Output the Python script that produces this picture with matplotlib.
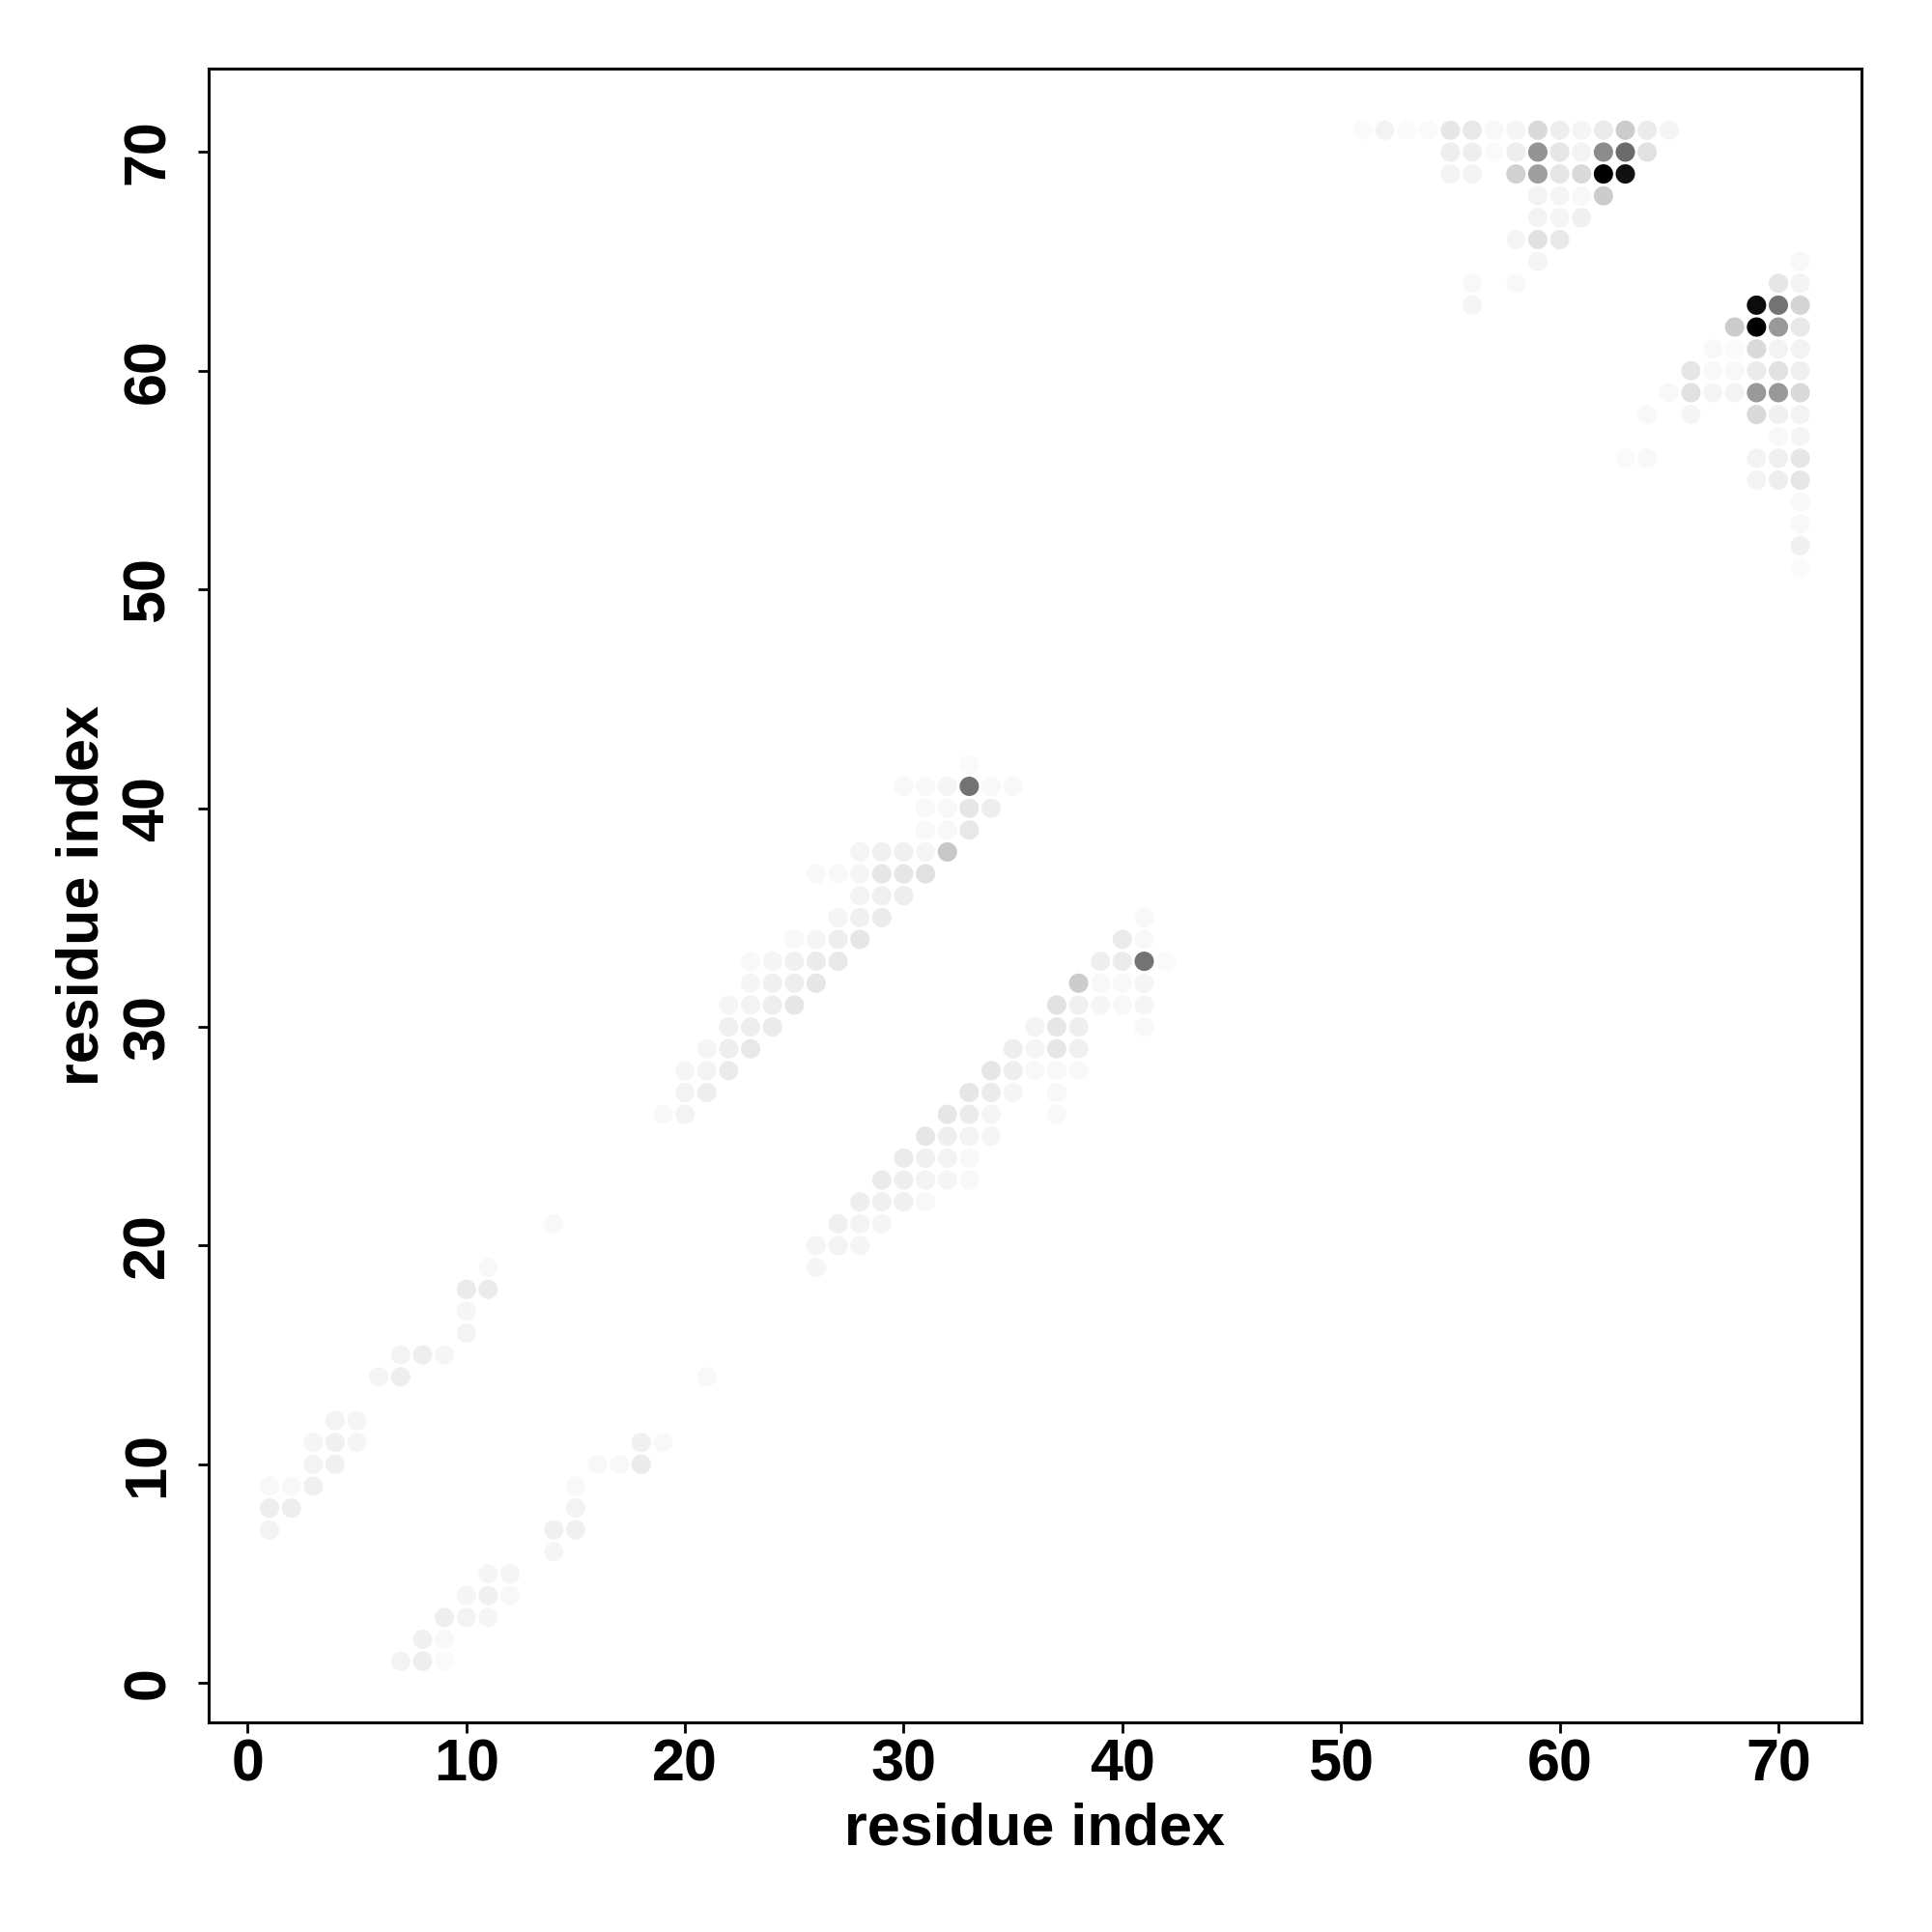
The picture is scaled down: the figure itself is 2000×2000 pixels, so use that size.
import numpy as np
import matplotlib
matplotlib.use("Agg")
import matplotlib.pyplot as plt

plt.rcParams['font.family'] = ['Liberation Sans', 'DejaVu Sans']
plt.rcParams['font.weight'] = 'bold'

# contact (residue i, residue j, strength 0..1), grouped by region
lower_left = [
    (1, 7, 0.05), (1, 8, 0.07), (2, 8, 0.07), (1, 9, 0.03), (2, 9, 0.03), (3, 9, 0.06),
    (3, 10, 0.05), (4, 10, 0.06), (3, 11, 0.04), (4, 11, 0.06), (5, 11, 0.04),
    (4, 12, 0.05), (5, 12, 0.04), (6, 14, 0.04), (7, 14, 0.07), (7, 15, 0.05),
    (8, 15, 0.07), (9, 15, 0.04), (10, 16, 0.05), (10, 17, 0.04), (10, 18, 0.08),
    (11, 18, 0.08), (11, 19, 0.03), (14, 21, 0.03),
    (7, 1, 0.05), (8, 1, 0.07), (9, 1, 0.02), (8, 2, 0.06), (9, 2, 0.03), (9, 3, 0.07),
    (10, 3, 0.05), (11, 3, 0.04), (10, 4, 0.04), (11, 4, 0.06), (12, 4, 0.03),
    (11, 5, 0.04), (12, 5, 0.04), (14, 6, 0.04), (14, 7, 0.06), (15, 7, 0.06),
    (15, 8, 0.05), (15, 9, 0.03), (16, 10, 0.03), (17, 10, 0.03), (18, 10, 0.08),
    (18, 11, 0.06), (19, 11, 0.03), (21, 14, 0.03),
]

middle_upper = [
    (19, 26, 0.03), (20, 26, 0.05), (20, 27, 0.05), (21, 27, 0.07), (20, 28, 0.04),
    (21, 28, 0.05), (22, 28, 0.08), (21, 29, 0.04), (22, 29, 0.07), (23, 29, 0.09),
    (22, 30, 0.06), (23, 30, 0.07), (24, 30, 0.08), (22, 31, 0.04), (23, 31, 0.05),
    (24, 31, 0.07), (25, 31, 0.10), (23, 32, 0.04), (24, 32, 0.06), (25, 32, 0.07),
    (26, 32, 0.10), (23, 33, 0.03), (24, 33, 0.04), (25, 33, 0.06), (26, 33, 0.08),
    (27, 33, 0.09), (25, 34, 0.03), (26, 34, 0.04), (27, 34, 0.07), (28, 34, 0.10),
    (27, 35, 0.04), (28, 35, 0.06), (29, 35, 0.08), (28, 36, 0.05), (29, 36, 0.06),
    (30, 36, 0.07), (26, 37, 0.03), (27, 37, 0.03), (28, 37, 0.04), (29, 37, 0.10),
    (30, 37, 0.10), (31, 37, 0.12), (28, 38, 0.04), (29, 38, 0.06), (30, 38, 0.06),
    (31, 38, 0.04), (32, 38, 0.22), (31, 39, 0.03), (32, 39, 0.03), (33, 39, 0.09),
    (31, 40, 0.03), (32, 40, 0.03), (33, 40, 0.10), (34, 40, 0.07), (30, 41, 0.03),
    (31, 41, 0.03), (32, 41, 0.04), (33, 41, 0.55), (34, 41, 0.03), (35, 41, 0.03),
    (33, 42, 0.02),
]

middle_lower = [
    (26, 19, 0.04), (26, 20, 0.04), (27, 20, 0.05), (28, 20, 0.04), (27, 21, 0.06),
    (28, 21, 0.05), (29, 21, 0.04), (28, 22, 0.07), (29, 22, 0.06), (30, 22, 0.06),
    (31, 22, 0.03), (29, 23, 0.08), (30, 23, 0.07), (31, 23, 0.05), (32, 23, 0.04),
    (33, 23, 0.03), (30, 24, 0.08), (31, 24, 0.06), (32, 24, 0.05), (33, 24, 0.03),
    (31, 25, 0.10), (32, 25, 0.07), (33, 25, 0.05), (34, 25, 0.04), (32, 26, 0.10),
    (33, 26, 0.08), (34, 26, 0.04), (37, 26, 0.03), (33, 27, 0.10), (34, 27, 0.08),
    (35, 27, 0.04), (37, 27, 0.03), (34, 28, 0.10), (35, 28, 0.07), (36, 28, 0.03),
    (37, 28, 0.03), (38, 28, 0.03), (35, 29, 0.07), (36, 29, 0.04), (37, 29, 0.10),
    (38, 29, 0.06), (36, 30, 0.05), (37, 30, 0.10), (38, 30, 0.07), (41, 30, 0.03),
    (37, 31, 0.12), (38, 31, 0.06), (39, 31, 0.04), (40, 31, 0.03), (41, 31, 0.04),
    (38, 32, 0.20), (39, 32, 0.03), (40, 32, 0.03), (41, 32, 0.04), (39, 33, 0.07),
    (40, 33, 0.08), (41, 33, 0.55), (42, 33, 0.02), (40, 34, 0.08), (41, 34, 0.03),
    (41, 35, 0.03),
]

upper_right = [
    (51, 71, 0.02), (52, 71, 0.05), (53, 71, 0.02), (54, 71, 0.02), (55, 71, 0.10),
    (56, 71, 0.09), (57, 71, 0.03), (58, 71, 0.04), (59, 71, 0.15), (60, 71, 0.07),
    (61, 71, 0.04), (62, 71, 0.08), (63, 71, 0.20), (64, 71, 0.08), (65, 71, 0.04),
    (55, 70, 0.07), (56, 70, 0.07), (57, 70, 0.02), (58, 70, 0.07), (59, 70, 0.42),
    (60, 70, 0.10), (61, 70, 0.05), (62, 70, 0.45), (63, 70, 0.58), (64, 70, 0.12),
    (55, 69, 0.05), (56, 69, 0.05), (58, 69, 0.18), (59, 69, 0.38), (60, 69, 0.10),
    (61, 69, 0.15), (62, 69, 1.00), (63, 69, 0.93),
    (59, 68, 0.05), (60, 68, 0.04), (61, 68, 0.03), (62, 68, 0.20),
    (59, 67, 0.05), (60, 67, 0.04), (61, 67, 0.06),
    (58, 66, 0.04), (59, 66, 0.12), (60, 66, 0.09), (59, 65, 0.04),
    (56, 64, 0.03), (58, 64, 0.03), (56, 63, 0.04),
    (71, 65, 0.03), (70, 64, 0.10), (71, 64, 0.05),
    (69, 63, 0.95), (70, 63, 0.55), (71, 63, 0.17),
    (68, 62, 0.20), (69, 62, 1.00), (70, 62, 0.40), (71, 62, 0.09),
    (67, 61, 0.03), (68, 61, 0.02), (69, 61, 0.15), (70, 61, 0.05), (71, 61, 0.05),
    (66, 60, 0.10), (67, 60, 0.03), (68, 60, 0.03), (69, 60, 0.08), (70, 60, 0.12),
    (71, 60, 0.06),
    (65, 59, 0.03), (66, 59, 0.12), (67, 59, 0.04), (68, 59, 0.05), (69, 59, 0.40),
    (70, 59, 0.40), (71, 59, 0.15),
    (64, 58, 0.03), (66, 58, 0.04), (69, 58, 0.15), (70, 58, 0.06), (71, 58, 0.05),
    (70, 57, 0.03), (71, 57, 0.04),
    (63, 56, 0.02), (64, 56, 0.03), (69, 56, 0.05), (70, 56, 0.06), (71, 56, 0.10),
    (69, 55, 0.05), (70, 55, 0.07), (71, 55, 0.10),
    (71, 54, 0.03), (71, 53, 0.03), (71, 52, 0.06), (71, 51, 0.02),
]

contacts = np.array(lower_left + middle_upper + middle_lower + upper_right)
res_i, res_j, strength = contacts[:, 0], contacts[:, 1], contacts[:, 2]
order = np.argsort(strength)

fig = plt.figure(figsize=(10, 10), dpi=200)
ax = fig.add_axes([0.1078, 0.1085, 0.9635 - 0.1078, 0.9643 - 0.1085])
ax.scatter(res_i[order], res_j[order], c=strength[order], cmap='gray_r',
           vmin=0, vmax=1, s=52, linewidths=0)

ax.set_xlim(-1.8, 73.8)
ax.set_ylim(-1.8, 73.8)
ticks = np.arange(0, 71, 10)
ax.set_xticks(ticks)
ax.set_yticks(ticks)
ax.tick_params(labelsize=22, length=3.8, width=1)
ax.tick_params(axis='x', pad=2)
ax.tick_params(axis='y', pad=8)
for lab in ax.get_yticklabels():
    lab.set_rotation(90)
    lab.set_va('center')
for s in ax.spines.values():
    s.set_linewidth(1.1)

ax.set_xlabel("residue index", fontsize=22, fontweight='bold')
ax.set_ylabel("residue index", fontsize=22, fontweight='bold')
ax.xaxis.set_label_coords(0.5, -0.048)
ax.yaxis.set_label_coords(-0.059, 0.5)

fig.savefig("out.png", dpi=200, facecolor='white')
